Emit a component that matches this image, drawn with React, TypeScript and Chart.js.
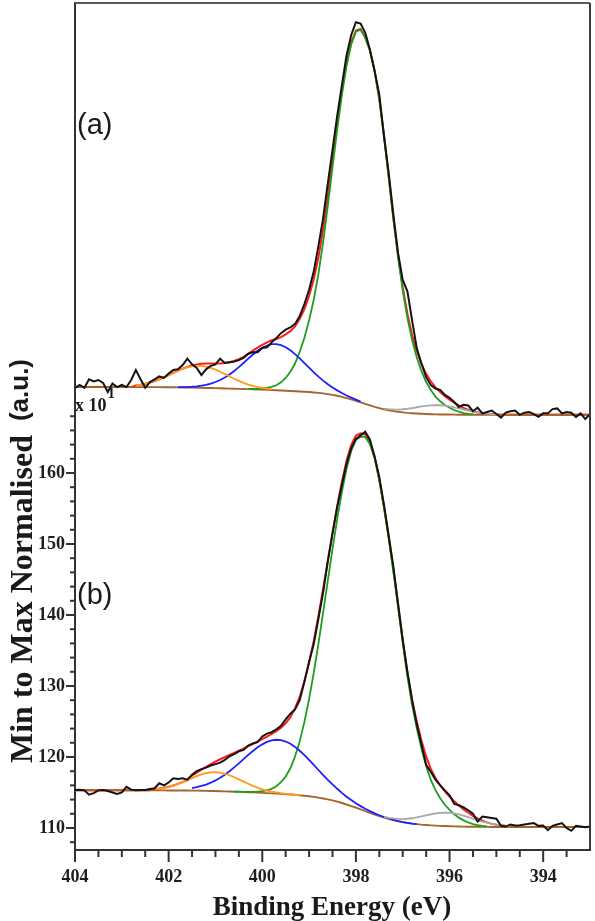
import { useEffect, useRef } from "react";
import { Chart, registerables } from "chart.js";

Chart.register(...registerables);

// Binding-energy grid shared by every trace (eV, high to low)
const energy = [
  404.0, 403.9, 403.8, 403.7, 403.6, 403.5, 403.4, 403.3, 403.2, 403.1,
  403.0, 402.9, 402.8, 402.7, 402.6, 402.5, 402.4, 402.3, 402.2, 402.1,
  402.0, 401.9, 401.8, 401.7, 401.6, 401.5, 401.4, 401.3, 401.2, 401.1,
  401.0, 400.9, 400.8, 400.7, 400.6, 400.5, 400.4, 400.3, 400.2, 400.1,
  400.0, 399.9, 399.8, 399.7, 399.6, 399.5, 399.4, 399.3, 399.2, 399.1,
  399.0, 398.9, 398.8, 398.7, 398.6, 398.5, 398.4, 398.3, 398.2, 398.1,
  398.0, 397.9, 397.8, 397.7, 397.6, 397.5, 397.4, 397.3, 397.2, 397.1,
  397.0, 396.9, 396.8, 396.7, 396.6, 396.5, 396.4, 396.3, 396.2, 396.1,
  396.0, 395.9, 395.8, 395.7, 395.6, 395.5, 395.4, 395.3, 395.2, 395.1,
  395.0, 394.9, 394.8, 394.7, 394.6, 394.5, 394.4, 394.3, 394.2, 394.1,
  394.0, 393.9, 393.8, 393.7, 393.6, 393.5, 393.4, 393.3, 393.2, 393.1,
  393.0,
];

const xTickLabels = [404, 402, 400, 398, 396, 394];
const yTickLabels = [110, 120, 130, 140, 150, 160];

// ---------- spectrum (a), offset upwards ----------
const measuredA = [
  172.0, 172.4, 172.0, 173.2, 172.9, 173.1, 172.7, 171.4, 172.6, 172.1,
  172.4, 172.1, 173.1, 174.5, 173.2, 172.0, 172.8, 173.2, 173.6, 173.4,
  174.0, 174.5, 174.6, 175.2, 176.1, 175.3, 174.8, 173.8, 174.6, 175.1,
  175.3, 176.1, 175.5, 175.6, 175.7, 175.9, 176.2, 176.8, 177.0, 177.0,
  177.6, 177.7, 178.4, 179.0, 179.7, 180.2, 180.5, 181.0, 182.1, 183.8,
  185.8, 188.4, 192.0, 195.9, 200.8, 205.5, 210.3, 214.6, 218.8, 221.7,
  223.5, 223.3, 222.0, 219.6, 216.6, 213.3, 207.4, 202.3, 196.4, 191.0,
  187.2, 185.6, 181.5, 177.6, 175.4, 173.5, 172.4, 171.9, 171.7, 171.0,
  170.6, 170.0, 169.3, 169.6, 169.5, 168.7, 169.2, 168.4, 168.6, 168.8,
  168.3, 167.8, 168.5, 168.7, 168.8, 168.2, 168.5, 168.6, 168.3, 167.9,
  168.4, 168.4, 169.0, 169.1, 168.4, 168.6, 168.5, 167.9, 168.4, 167.6,
  168.3,
];

const shirleyA = [
  172.1, 172.1, 172.1, 172.1, 172.1, 172.1, 172.1, 172.1, 172.1, 172.1,
  172.1, 172.1, 172.1, 172.1, 172.1, 172.1, 172.1, 172.09, 172.09, 172.08,
  172.08, 172.07, 172.06, 172.05, 172.03, 172.02, 172.01, 172.0, 171.98, 171.97,
  171.95, 171.93, 171.91, 171.89, 171.87, 171.85, 171.83, 171.81, 171.79, 171.77,
  171.75, 171.72, 171.69, 171.66, 171.62, 171.59, 171.55, 171.52, 171.48, 171.44,
  171.4, 171.34, 171.28, 171.21, 171.11, 171.0, 170.88, 170.72, 170.55, 170.36,
  170.16, 169.94, 169.73, 169.52, 169.32, 169.14, 168.97, 168.83, 168.72, 168.62,
  168.54, 168.47, 168.42, 168.38, 168.34, 168.31, 168.28, 168.26, 168.25, 168.24,
  168.23, 168.22, 168.21, 168.2, 168.2, 168.2, 168.2, 168.2, 168.2, 168.2,
  168.2, 168.2, 168.2, 168.2, 168.2, 168.2, 168.2, 168.2, 168.2, 168.2,
  168.2, 168.2, 168.2, 168.2, 168.2, 168.2, 168.2, 168.2, 168.2, 168.2,
  168.2,
];

// fitted components: heights above the Shirley background, from the given start energy
const orangeAFrom = 402.7;
const orangeA = [
  0.24, 0.34, 0.48, 0.65, 0.87, 1.12, 1.4, 1.71, 2.02, 2.33,
  2.61, 2.84, 3.0, 3.09, 3.09, 3.0, 2.84, 2.61, 2.33, 2.02,
  1.71, 1.4, 1.12, 0.87, 0.65, 0.48, 0.34, 0.24, 0.16, 0.1,
];
const blueAFrom = 401.8;
const blueA = [
  0.03, 0.05, 0.08, 0.13, 0.2, 0.3, 0.43, 0.62, 0.87, 1.17,
  1.55, 1.99, 2.5, 3.07, 3.67, 4.29, 4.9, 5.44, 5.9, 6.24,
  6.45, 6.5, 6.38, 6.13, 5.73, 5.23, 4.66, 4.05, 3.43, 2.84,
  2.3, 1.8, 1.39, 1.03, 0.76, 0.54, 0.37, 0.26, 0.17, 0.11,
];
const greenAFrom = 400.3;
const greenA = [
  0.03, 0.06, 0.1, 0.16, 0.27, 0.45, 0.7, 1.15, 1.8, 2.7,
  3.9, 5.6, 7.6, 10.1, 13.1, 16.8, 21.3, 26.5, 32.0, 37.5,
  42.5, 46.8, 50.0, 52.0, 52.5, 51.6, 50.0, 47.3, 43.5, 38.5,
  32.8, 27.0, 21.8, 17.2, 13.4, 10.3, 7.9, 6.0, 4.5, 3.4,
  2.5, 1.85, 1.35, 0.95, 0.65, 0.42, 0.25, 0.12, 0.05,
];
const greyAFrom = 397.4;
const greyA = [
  0.11, 0.16, 0.23, 0.32, 0.44, 0.58, 0.73, 0.88, 1.03, 1.15,
  1.24, 1.29, 1.29, 1.24, 1.15, 1.03, 0.88, 0.73, 0.58, 0.44,
  0.32, 0.23, 0.16, 0.1, 0.06,
];

// ---------- spectrum (b) ----------
const measuredB = [
  115.35, 115.4, 115.3, 114.7, 114.9, 115.3, 115.35, 115.2, 115.0, 114.8,
  115.0, 115.8, 115.4, 115.3, 115.35, 115.35, 115.5, 115.6, 116.3, 116.0,
  116.4, 117.0, 116.9, 117.0, 116.8, 117.5, 118.0, 118.3, 118.5, 118.8,
  119.0, 119.2, 119.6, 120.1, 120.4, 120.8, 121.0, 121.6, 121.9, 122.1,
  122.9, 123.3, 123.5, 123.9, 124.4, 125.3, 126.1, 126.7, 128.0, 130.6,
  133.4, 135.9, 139.5, 143.2, 147.6, 151.5, 155.2, 158.3, 161.3, 163.5,
  164.8, 165.3, 165.8, 164.7, 162.3, 159.4, 155.5, 151.2, 146.8, 141.6,
  136.5, 132.0, 128.0, 124.6, 121.8, 118.9, 117.9, 116.8, 116.0, 115.3,
  114.6, 113.4, 113.2, 112.9, 112.5, 112.0, 110.9, 111.6, 111.5, 111.4,
  111.3, 110.3, 110.2, 110.5, 110.35, 110.4, 110.5, 110.6, 110.7, 110.3,
  110.35, 109.7, 110.3, 110.5, 110.7, 110.0, 109.6, 110.3, 110.2, 110.1,
  110.2,
];

const shirleyB = [
  115.3, 115.3, 115.3, 115.3, 115.3, 115.3, 115.3, 115.3, 115.3, 115.3,
  115.3, 115.3, 115.3, 115.3, 115.3, 115.3, 115.3, 115.3, 115.3, 115.3,
  115.29, 115.29, 115.29, 115.28, 115.28, 115.27, 115.26, 115.25, 115.23, 115.22,
  115.2, 115.18, 115.16, 115.14, 115.11, 115.09, 115.06, 115.04, 115.01, 114.98,
  114.94, 114.91, 114.87, 114.84, 114.8, 114.75, 114.71, 114.66, 114.6, 114.54,
  114.47, 114.38, 114.28, 114.16, 114.03, 113.88, 113.71, 113.52, 113.31, 113.09,
  112.86, 112.62, 112.38, 112.14, 111.9, 111.68, 111.48, 111.29, 111.12, 110.96,
  110.83, 110.72, 110.62, 110.54, 110.47, 110.42, 110.37, 110.33, 110.3, 110.27,
  110.25, 110.23, 110.21, 110.19, 110.18, 110.17, 110.17, 110.16, 110.16, 110.15,
  110.15, 110.15, 110.15, 110.15, 110.15, 110.15, 110.15, 110.15, 110.15, 110.15,
  110.15, 110.15, 110.15, 110.15, 110.15, 110.15, 110.15, 110.15, 110.15, 110.15,
  110.15,
];

const orangeBFrom = 402.3;
const orangeB = [
  0.17, 0.25, 0.36, 0.51, 0.7, 0.93, 1.19, 1.47, 1.76, 2.04,
  2.29, 2.48, 2.61, 2.65, 2.61, 2.48, 2.29, 2.04, 1.76, 1.47,
  1.19, 0.93, 0.7, 0.51, 0.36, 0.25, 0.17, 0.11, 0.07, 0.04,
  0.02, 0.01,
];
const blueBFrom = 401.5;
const blueB = [
  0.36, 0.49, 0.67, 0.89, 1.16, 1.5, 1.89, 2.34, 2.86, 3.42,
  4.01, 4.63, 5.25, 5.84, 6.38, 6.84, 7.21, 7.47, 7.59, 7.57,
  7.43, 7.15, 6.76, 6.28, 5.72, 5.12, 4.51, 3.89, 3.3, 2.75,
  2.25, 1.81, 1.43, 1.1, 0.84, 0.63, 0.46, 0.33, 0.23, 0.16,
  0.11, 0.07, 0.05, 0.03, 0.02, 0.01, 0.01, 0.0, 0.0,
];
const greenBFrom = 400.6;
const greenB = [
  0.01, 0.02, 0.03, 0.05, 0.08, 0.14, 0.24, 0.4, 0.65, 1.05,
  1.65, 2.5, 3.7, 5.4, 7.6, 10.4, 13.7, 17.5, 21.7, 26.2,
  30.8, 35.4, 39.8, 43.8, 47.3, 50.0, 51.8, 52.5, 52.7, 51.9,
  50.2, 47.3, 43.6, 39.5, 35.0, 30.2, 25.2, 20.6, 16.7, 13.5,
  10.7, 8.3, 6.4, 5.0, 3.9, 3.0, 2.3, 1.7, 1.25, 0.88,
  0.6, 0.38, 0.22, 0.12, 0.05,
];
const greyBFrom = 397.4;
const greyB = [
  0.1, 0.15, 0.22, 0.31, 0.43, 0.58, 0.75, 0.95, 1.16, 1.36,
  1.55, 1.71, 1.83, 1.89, 1.89, 1.83, 1.71, 1.55, 1.36, 1.16,
  0.95, 0.75, 0.58, 0.43, 0.31, 0.22, 0.15, 0.1,
];

const colors = {
  measured: "#141414",
  envelope: "#ff1a1a",
  background: "#a5662c",
  orange: "#ff9a1a",
  blue: "#1f1fff",
  green: "#1d9e1d",
  grey: "#a9a9a9",
};

const serif = "'Liberation Serif', 'Times New Roman', serif";
const sans = "'Liberation Sans', Arial, sans-serif";

const at = (e: number) => energy.findIndex((v) => Math.abs(v - e) < 1e-6);

type Pt = { x: number; y: number };

function componentPoints(bg: number[], from: number, heights: number[]): Pt[] {
  const i0 = at(from);
  return heights.map((h, j) => ({ x: energy[i0 + j], y: bg[i0 + j] + h }));
}

function envelopePoints(bg: number[], parts: [number, number[]][]): Pt[] {
  const total = bg.slice();
  for (const [from, heights] of parts) {
    const i0 = at(from);
    heights.forEach((h, j) => {
      total[i0 + j] += h;
    });
  }
  return energy.map((x, i) => ({ x, y: total[i] }));
}

const seriesPoints = (values: number[]): Pt[] => energy.map((x, i) => ({ x, y: values[i] }));

function trace(label: string, data: Pt[], color: string, width: number, order: number) {
  return {
    label,
    data,
    borderColor: color,
    backgroundColor: color,
    borderWidth: width,
    pointRadius: 0,
    tension: 0,
    fill: false,
    order,
  };
}

function spectrumDatasets(
  tag: string,
  measured: number[],
  bg: number[],
  orange: [number, number[]],
  blue: [number, number[]],
  green: [number, number[]],
  grey: [number, number[]]
) {
  return [
    trace(`${tag} data`, seriesPoints(measured), colors.measured, 2, 0),
    trace(`${tag} N4`, componentPoints(bg, grey[0], grey[1]), colors.grey, 1.8, 1),
    trace(`${tag} N1`, componentPoints(bg, orange[0], orange[1]), colors.orange, 1.8, 2),
    trace(`${tag} N2`, componentPoints(bg, blue[0], blue[1]), colors.blue, 1.8, 3),
    trace(`${tag} N3`, componentPoints(bg, green[0], green[1]), colors.green, 1.8, 4),
    trace(`${tag} background`, seriesPoints(bg), colors.background, 1.9, 5),
    trace(`${tag} envelope`, envelopePoints(bg, [orange, blue, green, grey]), colors.envelope, 2, 6),
  ];
}

const decorations = {
  id: "decorations",
  afterDraw(chart: any) {
    const { ctx, chartArea: a, scales } = chart;
    const xs = scales.x;
    const ys = scales.y;
    ctx.save();

    // top and right frame
    ctx.lineWidth = 2;
    ctx.strokeStyle = "#5a5a5a";
    ctx.beginPath();
    ctx.moveTo(a.left, a.top);
    ctx.lineTo(a.right, a.top);
    ctx.stroke();
    ctx.strokeStyle = "#3a3a3a";
    ctx.beginPath();
    ctx.moveTo(a.right, a.top);
    ctx.lineTo(a.right, a.bottom);
    ctx.stroke();

    // outward tick marks, longer at labelled values
    ctx.strokeStyle = "#333";
    ctx.lineWidth = 2;
    for (const t of xs.ticks) {
      const px = xs.getPixelForValue(t.value);
      const len = xTickLabels.includes(t.value) ? 12 : 7;
      ctx.beginPath();
      ctx.moveTo(px, a.bottom);
      ctx.lineTo(px, a.bottom + len);
      ctx.stroke();
    }
    for (const t of ys.ticks) {
      const py = ys.getPixelForValue(t.value);
      const len = yTickLabels.includes(t.value) ? 9 : 5;
      ctx.beginPath();
      ctx.moveTo(a.left, py);
      ctx.lineTo(a.left - len, py);
      ctx.stroke();
    }

    ctx.fillStyle = "#1a1a1a";
    ctx.textBaseline = "alphabetic";

    // panel tags
    ctx.font = `29px ${sans}`;
    ctx.textAlign = "left";
    ctx.fillText("(a)", a.left + 2, 134);
    ctx.fillText("(b)", a.left + 2, 604);

    // axis multiplier
    ctx.font = `bold 18px ${serif}`;
    ctx.fillText("x 10", a.left, 411);
    const w10 = ctx.measureText("x 10").width;
    ctx.font = `bold 15px ${serif}`;
    ctx.fillText("1", a.left + w10 + 1, 398);

    // x title
    ctx.font = `bold 27px ${serif}`;
    ctx.textAlign = "center";
    ctx.fillText("Binding Energy (eV)", 332, 915);

    // y title
    ctx.textAlign = "left";
    const part1 = "Min to Max Normalised";
    const part2 = "(a.u.)";
    ctx.font = `bold 32px ${serif}`;
    const w1 = ctx.measureText(part1).width;
    ctx.font = `bold 26px ${sans}`;
    const w2 = ctx.measureText(part2).width;
    const gap = 14;
    const total = w1 + gap + w2;
    ctx.translate(0, 561);
    ctx.rotate(-Math.PI / 2);
    ctx.font = `bold 32px ${serif}`;
    ctx.fillText(part1, -total / 2, 32);
    ctx.font = `bold 26px ${sans}`;
    ctx.fillText(part2, -total / 2 + w1 + gap, 28);

    ctx.restore();
  },
};

export default function App() {
  const canvasRef = useRef<HTMLCanvasElement | null>(null);

  useEffect(() => {
    const canvas = canvasRef.current;
    if (!canvas) return;

    const datasets = [
      ...spectrumDatasets(
        "(a)",
        measuredA,
        shirleyA,
        [orangeAFrom, orangeA],
        [blueAFrom, blueA],
        [greenAFrom, greenA],
        [greyAFrom, greyA]
      ),
      ...spectrumDatasets(
        "(b)",
        measuredB,
        shirleyB,
        [orangeBFrom, orangeB],
        [blueBFrom, blueB],
        [greenBFrom, greenB],
        [greyBFrom, greyB]
      ),
    ];

    const xTicks: number[] = [];
    for (let v = 404; v > 393; v -= 0.5) xTicks.push(v);
    const yTicks: number[] = [];
    for (let v = 108; v <= 168; v += 2) yTicks.push(v);

    const tickFont = { family: serif, size: 18, weight: "bold" as const };

    const chart = new Chart(canvas, {
      type: "line",
      data: { datasets: datasets as any },
      options: {
        responsive: false,
        animation: false,
        devicePixelRatio: 1,
        parsing: false,
        normalized: true,
        layout: { padding: { left: 0, right: 5, top: 3, bottom: 0 } },
        plugins: {
          legend: { display: false },
          tooltip: { enabled: false },
        },
        scales: {
          x: {
            type: "linear",
            reverse: true,
            min: 393,
            max: 404,
            afterBuildTicks: (s: any) => {
              s.ticks = xTicks.map((value) => ({ value }));
            },
            afterFit: (s: any) => {
              s.height = 71;
              s.paddingLeft = 0;
              s.paddingRight = 0;
            },
            ticks: {
              autoSkip: false,
              maxRotation: 0,
              minRotation: 0,
              padding: 17,
              color: "#1e1e1e",
              font: tickFont,
              callback: (v: any) => (xTickLabels.includes(Number(v)) ? String(v) : ""),
            },
            grid: { display: true, drawOnChartArea: false, drawTicks: false },
            border: { display: true, color: "#333", width: 2 },
          },
          y: {
            type: "linear",
            min: 106.9,
            max: 226.2,
            afterBuildTicks: (s: any) => {
              s.ticks = yTicks.map((value) => ({ value }));
            },
            afterFit: (s: any) => {
              s.width = 75;
              s.paddingTop = 0;
              s.paddingBottom = 0;
            },
            ticks: {
              autoSkip: false,
              padding: 10,
              color: "#1e1e1e",
              font: tickFont,
              callback: (v: any) => (yTickLabels.includes(Number(v)) ? String(v) : ""),
            },
            grid: { display: true, drawOnChartArea: false, drawTicks: false },
            border: { display: true, color: "#333", width: 2 },
          },
        },
      },
      plugins: [decorations],
    });

    return () => chart.destroy();
  }, []);

  return (
    <div style={{ position: "absolute", left: 0, top: 0, width: 595, height: 921, background: "#fff" }}>
      <canvas ref={canvasRef} width={595} height={921} style={{ display: "block" }} />
    </div>
  );
}
